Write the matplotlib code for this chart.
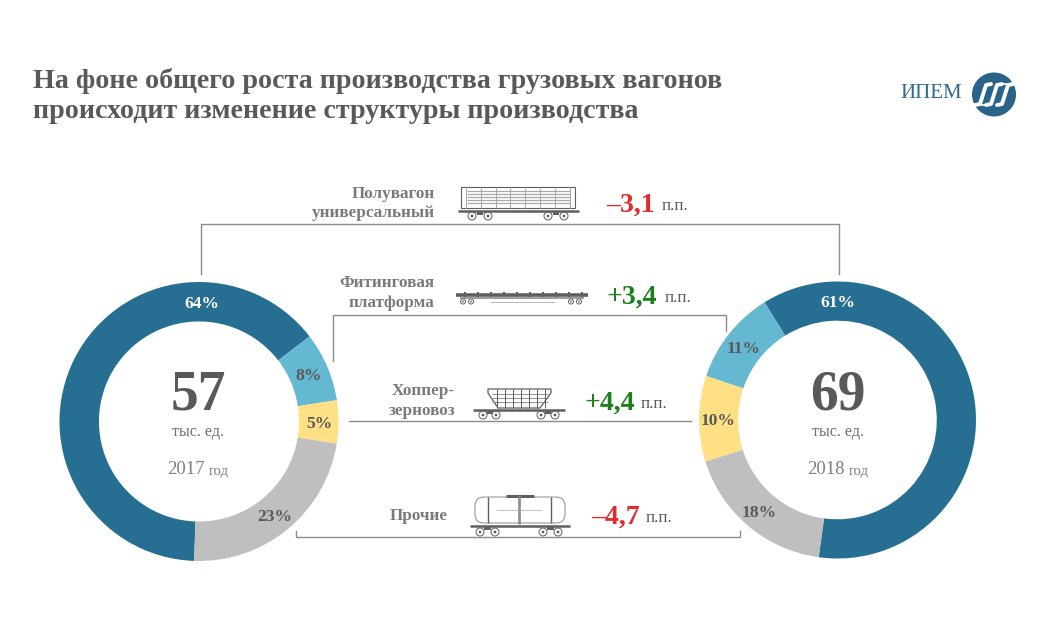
import matplotlib
matplotlib.use('Agg')
import matplotlib.pyplot as plt
from matplotlib.patches import Circle, FancyBboxPatch, Polygon, Rectangle

plt.rcParams['font.family'] = ['Liberation Serif', 'DejaVu Serif']

# данные
shares_2017 = [64, 8, 5, 23]
shares_2018 = [61, 18, 10, 11]
colors_2017 = ['#276f92', '#65b8d2', '#ffe084', '#bfbfbf']
colors_2018 = ['#276f92', '#bfbfbf', '#ffe084', '#65b8d2']
total_2017 = '57'
total_2018 = '69'
title_lines = ['На фоне общего роста производства грузовых вагонов',
               'происходит изменение структуры производства']
changes = ['–3,1', '+3,4', '+4,4', '–4,7']
change_colors = ['#e32b2b', '#1f7f1f', '#1f7f1f', '#e32b2b']

GREY = '#595959'
LABEL = '#7a7a7a'
LINE = '#8c8c8c'
ICON = '#5f5f5f'
SOFT = '#a8a8a8'

fig = plt.figure(figsize=(10.4, 6.32), dpi=100)


def donut(values, colors, start, cx, cy, r):
    a = fig.add_axes([(cx - r) / 1040, 1 - (cy + r) / 632, 2 * r / 1040, 2 * r / 632])
    a.pie(values, colors=colors, startangle=start, counterclock=False, radius=1,
          wedgeprops={'width': 0.283, 'linewidth': 0})
    a.set_xlim(-1, 1)
    a.set_ylim(-1, 1)


donut(shares_2017, colors_2017, 90 - 182, 199, 421.5, 139.5)
donut(shares_2018, colors_2018, 90 + 31.8, 837.5, 420, 138.5)

ax = fig.add_axes([0, 0, 1, 1], facecolor='none')
ax.set_xlim(0, 1040)
ax.set_ylim(632, 0)
ax.axis('off')

# заголовок
ax.text(33, 81, title_lines[0], fontsize=20.2, fontweight='bold', color=GREY, va='center')
ax.text(33, 112, title_lines[1], fontsize=20.2, fontweight='bold', color=GREY, va='center')

# подписи долей
labels_left = [(202, 304, '64%', 'white'), (309, 376, '8%', GREY), (319, 424, '5%', GREY), (275, 517, '23%', GREY)]
labels_right = [(838, 303, '61%', 'white'), (744, 349, '11%', GREY), (718, 421, '10%', GREY), (759, 513, '18%', GREY)]
for x, y, s, c in labels_left + labels_right:
    ax.text(x, y, s, fontsize=12.6, fontweight='bold', color=c, ha='center', va='center')

# центр колец
for x, total, year in [(198, total_2017, '2017'), (838, total_2018, '2018')]:
    ax.text(x, 396, total, fontsize=40, fontweight='bold', color=GREY, ha='center', va='center')
    ax.text(x, 432, 'тыс. ед.', fontsize=11.6, color='#707070', ha='center', va='center')
    ax.text(x + 7, 470, year, fontsize=13.5, color='#7f7f7f', ha='right', va='center')
    ax.text(x + 11, 471, 'год', fontsize=10.5, color='#7f7f7f', ha='left', va='center')

# скобки
lw = 1.0
ax.plot([201, 201, 839, 839], [274, 224, 224, 274], color=LINE, lw=lw)
ax.plot([332.5, 332.5, 726, 726], [361, 315, 315, 331], color=LINE, lw=lw)
ax.plot([349, 691], [421, 421], color=LINE, lw=lw)
ax.plot([296, 296, 740, 740], [531, 537, 537, 531], color=LINE, lw=lw)

# подписи вагонов
for x, y, s in [(435, 194, 'Полувагон'), (435, 213, 'универсальный'), (434, 283, 'Фитинговая'),
                (434, 303, 'платформа'), (455, 391, 'Хоппер-'), (455, 411, 'зерновоз'), (448, 516, 'Прочие')]:
    ax.text(x, y, s, fontsize=12.3, fontweight='bold', color=LABEL, ha='right', va='center')

# изменения, п.п.
change_pos = [(606, 205, 662), (607, 297, 665), (584, 403, 641), (591, 517, 646)]
for (x, y, x2), s, c in zip(change_pos, changes, change_colors):
    ax.text(x, y, s, fontsize=20, fontweight='bold', color=c, va='center')
    ax.text(x2, y + 1, 'п.п.', fontsize=12.2, color=GREY, va='center')


def wheels(xs, y, r):
    for x in xs:
        ax.add_patch(Circle((x, y), r, fc='white', ec=ICON, lw=0.7))
        ax.add_patch(Circle((x, y), r * 0.35, fc=ICON, ec='none'))


def hlines(x0, x1, ys, lw=0.7, c=ICON):
    for y in ys:
        ax.plot([x0, x1], [y, y], color=c, lw=lw, solid_capstyle='butt')


def vlines(xs, y0, y1, lw=0.6, c=ICON):
    for x in xs:
        ax.plot([x, x], [y0, y1], color=c, lw=lw, solid_capstyle='butt')


def bogie(x0, x1, y):
    ax.add_patch(Rectangle((x0, y), x1 - x0, 3, fc=ICON, ec='none'))


# полувагон
ax.add_patch(Rectangle((461, 187), 114, 21, fc='white', ec=ICON, lw=0.8))
hlines(467, 570, [191, 193.5, 197, 200, 203], lw=0.9, c=SOFT)
vlines([466 + 14.8 * i for i in range(8)], 188, 208, lw=0.7, c=SOFT)
hlines(458, 579, [211], lw=1.8)
bogie(477, 483, 212)
bogie(553, 559, 212)
wheels([472, 488, 548, 564], 216, 4)

# платформа
hlines(456, 588, [295], lw=2.6)
hlines(460, 584, [298], lw=1.2, c='#8a8a8a')
hlines(490, 555, [302], lw=0.6, c=SOFT)
vlines([465 + 13 * i for i in range(10)], 292, 297, lw=1.4)
wheels([463, 471, 571, 579], 301.5, 2.5)

# хоппер
ax.add_patch(Polygon([(488, 389), (551, 389), (551, 393), (540, 408), (498, 408), (488, 393)],
                     closed=True, fc='white', ec=ICON, lw=0.9))
hlines(492, 548, [394, 398, 402], lw=0.7, c='#909090')
vlines([497, 505, 513, 521, 529, 537, 545], 389, 408, lw=0.7)
hlines(473, 565, [410], lw=1.8)
bogie(487, 493, 411)
bogie(545, 551, 411)
wheels([483, 496, 541, 555], 415, 4)

# цистерна
ax.add_patch(FancyBboxPatch((475, 497), 90, 26, boxstyle='round,pad=0,rounding_size=9',
                            fc='white', ec='#8a8a8a', lw=0.7))
vlines([488, 551], 497, 523, lw=1.0)
hlines(506, 534, [496], lw=2.2)
vlines([519], 496, 524, lw=2.0, c='#909090')
hlines(496, 542, [510], lw=0.5, c=SOFT)
hlines(470, 570, [526], lw=1.8)
bogie(484, 491, 527)
bogie(547, 554, 527)
wheels([480, 495, 543, 558], 532, 4)

# логотип
ax.text(931, 94, 'ИПЕМ', fontsize=15, color='#2f6a8f', ha='center', va='center')
ax.add_patch(Circle((994, 94.5), 22, fc='#2a6388', ec='none'))
for dx in (-11, 0, 11):
    ax.plot([dx - 8 + 994, dx - 3 + 994, dx + 3 + 994, dx + 8 + 994],
            [105, 104, 85, 84], color='white', lw=2.8, solid_capstyle='round')
ax.plot([974, 990], [105, 105], color='white', lw=1.2)
ax.plot([998, 1014], [84, 84], color='white', lw=1.2)

fig.savefig('out.png', dpi=100, facecolor='white')
